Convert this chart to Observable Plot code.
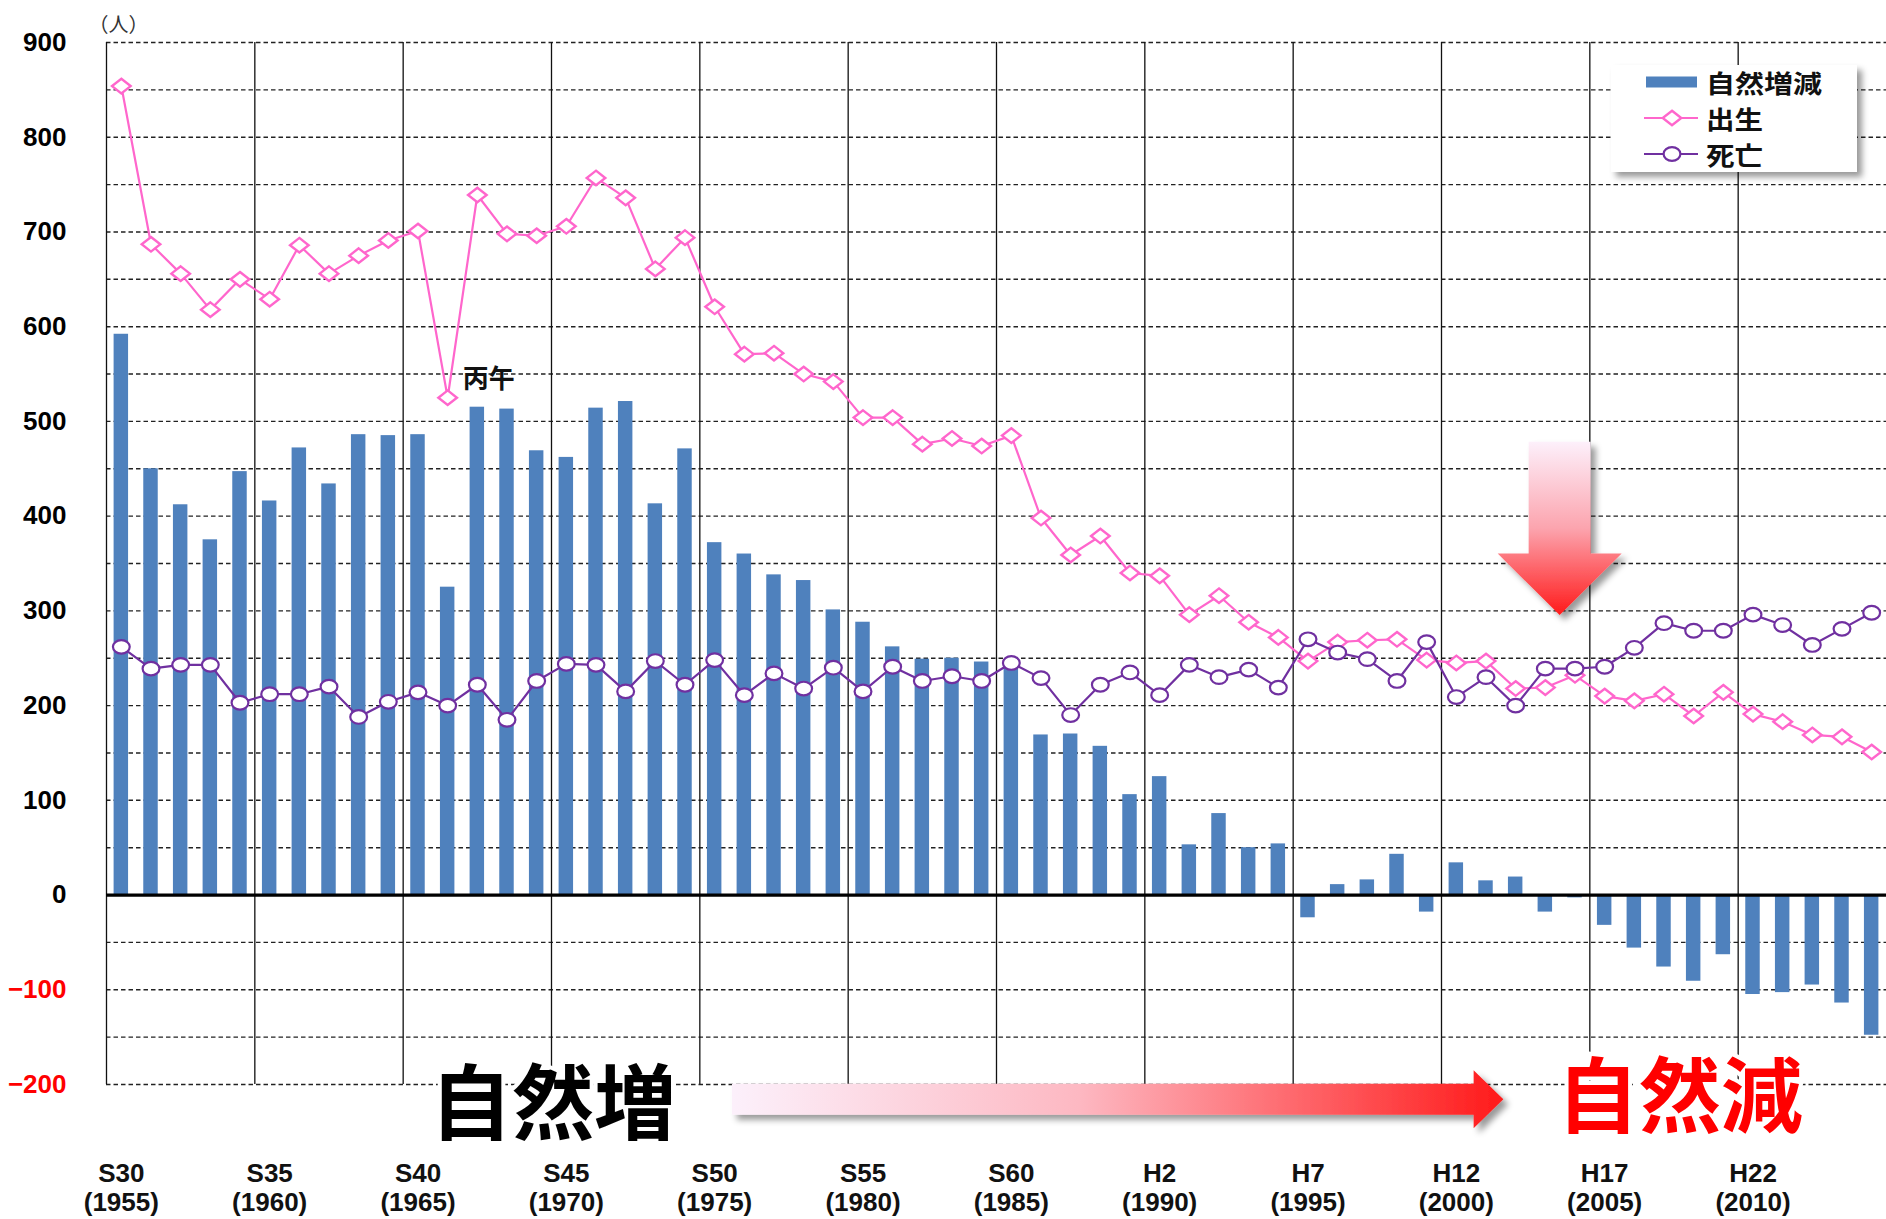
<!DOCTYPE html>
<html><head><meta charset="utf-8">
<script src="https://cdn.jsdelivr.net/npm/d3@7"></script>
<script src="https://cdn.jsdelivr.net/npm/@observablehq/plot@0.6"></script>
<style>
body{margin:0;background:#fff;}
#wrap{position:relative;width:1886px;height:1219px;overflow:hidden;}
</style></head>
<body><div id="wrap"></div>
<script>
// ---- data ----
const years = [1955,1956,1957,1958,1959,1960,1961,1962,1963,1964,
  1965,1966,1967,1968,1969,1970,1971,1972,1973,1974,
  1975,1976,1977,1978,1979,1980,1981,1982,1983,1984,
  1985,1986,1987,1988,1989,1990,1991,1992,1993,1994,
  1995,1996,1997,1998,1999,2000,2001,2002,2003,2004,
  2005,2006,2007,2008,2009,2010,2011,2012,2013,2014];
const natural = [592,450,412,375,447,416,472,434,486,485,
  486,325,515,513,469,462,514,521,413,471,
  372,360,338,332,301,288,262,249,250,246,
  240,169,170,157,106,125,53,86,50,54,
  -24,11,16,43,-18,34,15,19,-18,-3,
  -32,-56,-76,-91,-63,-105,-103,-95,-114,-148];
const births = [854,687,656,618,650,629,686,656,675,691,
  701,525,739,698,696,706,757,736,661,694,
  621,571,572,550,542,504,504,476,482,474,
  485,398,359,379,340,337,296,316,288,272,
  247,267,269,270,248,245,247,218,219,232,
  210,205,212,189,214,191,183,169,167,151];
const deaths = [262,239,243,243,203,212,212,220,188,204,
  214,200,222,185,226,244,243,215,247,222,
  248,211,234,218,240,215,241,226,231,226,
  245,229,190,222,235,211,243,230,238,219,
  270,256,249,226,267,209,230,200,239,239,
  241,261,287,279,279,296,285,264,281,298];
const seriesNames = ["自然増減","出生","死亡"];
const xTickYears = [1955,1960,1965,1970,1975,1980,1985,1990,1995,2000,2005,2010];
const xTickEras = ["S30","S35","S40","S45","S50","S55","S60","H2","H7","H12","H17","H22"];
const yTicks = [-200,-100,0,100,200,300,400,500,600,700,800,900];
const gridValues = [-200,-150,-100,-50,50,100,150,200,250,300,350,400,450,500,550,600,650,700,750,800,850,900];
const unitLabel = "（人）";
const noteYear = 1966, noteText = "丙午";
const trendLeft = "自然増", trendRight = "自然減";

// ---- styles ----
const BLUE = "#4F81BD", PINK = "#FF66CC", PURPLE = "#7030A0";
const rows = years.map((year, i) => ({year, natural: natural[i], births: births[i], deaths: deaths[i]}));
const negTicks = yTicks.filter(d => d < 0), posTicks = yTicks.filter(d => d >= 0);

const diamondSym = {draw(ctx){ const a=9.3,b=7.3; ctx.moveTo(0,-b); ctx.lineTo(a,0); ctx.lineTo(0,b); ctx.lineTo(-a,0); ctx.closePath(); }};
const ellipseSym = {draw(ctx){ const rx=8.4, ry=6.8, k=0.5523;
  ctx.moveTo(rx,0);
  ctx.bezierCurveTo(rx, ry*k, rx*k, ry, 0, ry);
  ctx.bezierCurveTo(-rx*k, ry, -rx, ry*k, -rx, 0);
  ctx.bezierCurveTo(-rx, -ry*k, -rx*k, -ry, 0, -ry);
  ctx.bezierCurveTo(rx*k, -ry, rx, -ry*k, rx, 0);
  ctx.closePath(); }};

const W = 1886, H = 1219, ML = 106, MR = 0;
const bw = (W - ML - MR) / years.length;
const numFont = "'Liberation Sans', Arial, sans-serif";
const jpFont = "'Noto Sans CJK JP', sans-serif";

const plot = Plot.plot({
  width: W, height: H,
  marginTop: 42, marginBottom: 135, marginLeft: ML, marginRight: MR,
  x: {type: "band", domain: years, padding: 0, axis: null},
  y: {domain: [-200, 900], axis: null},
  style: {fontFamily: numFont, background: "#fff", overflow: "visible"},
  marks: [
    Plot.ruleY(gridValues, {stroke: "#222", strokeWidth: 1.4, strokeDasharray: "4.5,3"}),
    Plot.ruleX(xTickYears, {x: d => d, dx: -bw / 2, stroke: "#111", strokeWidth: 1.3}),
    Plot.barY(rows, {x: "year", y: "natural", fill: BLUE, insetLeft: 7.6, insetRight: 7.6}),
    Plot.ruleY([0], {stroke: "#000", strokeWidth: 3.2}),
    Plot.line(rows, {x: "year", y: "births", stroke: PINK, strokeWidth: 2.2}),
    Plot.dot(rows, {x: "year", y: "births", symbol: diamondSym, stroke: PINK, fill: "#fff", strokeWidth: 2.4}),
    Plot.line(rows, {x: "year", y: "deaths", stroke: PURPLE, strokeWidth: 2.2}),
    Plot.dot(rows, {x: "year", y: "deaths", symbol: ellipseSym, stroke: PURPLE, fill: "#fff", strokeWidth: 2.2}),
    Plot.text(posTicks, {y: d => d, frameAnchor: "left", dx: -40, textAnchor: "end", text: d => String(d),
      fill: "#000", fontSize: 26, fontWeight: "bold"}),
    Plot.text(negTicks, {y: d => d, frameAnchor: "left", dx: -40, textAnchor: "end", text: d => "−" + Math.abs(d),
      fill: "#FF0000", fontSize: 26, fontWeight: "bold"}),
    Plot.text(xTickYears, {x: d => d, frameAnchor: "bottom", dy: 76, lineAnchor: "top",
      text: (d, i) => xTickEras[i] + "\n(" + d + ")", fontSize: 26, fontWeight: "bold", lineHeight: 1.14, fill: "#111"}),
    Plot.text([unitLabel], {frameAnchor: "top-left", dx: -18, dy: -25, text: d => d, fontSize: 20,
      fill: "#333", fontFamily: jpFont}),
    Plot.text([noteText], {x: () => noteYear, y: () => births[years.indexOf(noteYear)], dx: 15, dy: -18,
      textAnchor: "start", text: d => d, fontSize: 26, fontWeight: "bold", fontFamily: jpFont, fill: "#111"})
  ]
});
document.getElementById("wrap").appendChild(plot);

// ---- annotations (positioned from the plot's scales) ----
const xs = plot.scale("x"), ys = plot.scale("y");
const x0 = xs.apply(years[0]);
const bx = t => x0 + (t - years[0]) * xs.bandwidth;
const svg = d3.select(plot);
const defs = svg.append("defs");
const f = defs.append("filter").attr("id", "shadow").attr("x", "-20%").attr("y", "-20%").attr("width", "150%").attr("height", "150%");
f.append("feDropShadow").attr("dx", 5).attr("dy", 5).attr("stdDeviation", 3).attr("flood-color", "#000").attr("flood-opacity", 0.4);
const gh = defs.append("linearGradient").attr("id", "gH").attr("x1", 0).attr("x2", 1).attr("y1", 0).attr("y2", 0);
gh.append("stop").attr("offset", "0%").attr("stop-color", "#fcf0fb");
gh.append("stop").attr("offset", "45%").attr("stop-color", "#fdb8c2");
gh.append("stop").attr("offset", "100%").attr("stop-color", "#ff1a1a");
const gv = defs.append("linearGradient").attr("id", "gV").attr("x1", 0).attr("x2", 0).attr("y1", 0).attr("y2", 1);
gv.append("stop").attr("offset", "0%").attr("stop-color", "#fdf0fb");
gv.append("stop").attr("offset", "50%").attr("stop-color", "#fca4ae");
gv.append("stop").attr("offset", "100%").attr("stop-color", "#ff1a1a");

const ann = svg.append("g");
// horizontal arrow
{
  const xl = bx(1976.1), xh = bx(2001.1), xt = bx(2002.1), yc = ys.apply(-216);
  const s = 15.5, hh = 29;
  ann.append("path").attr("d", `M${xl},${yc-s}L${xh},${yc-s}L${xh},${yc-hh}L${xt},${yc}L${xh},${yc+hh}L${xh},${yc+s}L${xl},${yc+s}Z`)
    .attr("fill", "url(#gH)").attr("filter", "url(#shadow)");
}
// vertical arrow
{
  const xc = bx(2004), yt = ys.apply(478), yh = ys.apply(360), ytip = ys.apply(295);
  const s = 31, hw = 62;
  ann.append("path").attr("d", `M${xc-s},${yt}L${xc+s},${yt}L${xc+s},${yh}L${xc+hw},${yh}L${xc},${ytip}L${xc-hw},${yh}L${xc-s},${yh}Z`)
    .attr("fill", "url(#gV)").attr("filter", "url(#shadow)");
}
// big texts
ann.append("text").text(trendLeft).attr("x", bx(1970.07)).attr("y", ys.apply(-214))
  .attr("text-anchor", "middle").attr("dominant-baseline", "central")
  .attr("font-family", jpFont).attr("font-weight", "bold").attr("font-size", 82)
  .attr("fill", "#000").attr("stroke", "#fff").attr("stroke-width", 8).attr("paint-order", "stroke");
ann.append("text").text(trendRight).attr("x", bx(2008.05)).attr("y", ys.apply(-207))
  .attr("text-anchor", "middle").attr("dominant-baseline", "central")
  .attr("font-family", jpFont).attr("font-weight", "bold").attr("font-size", 82)
  .attr("fill", "#FF0000").attr("stroke", "#fff").attr("stroke-width", 8).attr("paint-order", "stroke");

// legend
{
  const lg = svg.append("g");
  const lx = 1611, ly = 65, lw = 246, lh = 107;
  lg.append("rect").attr("x", lx).attr("y", ly).attr("width", lw).attr("height", lh)
    .attr("fill", "#fff").attr("filter", "url(#shadow)");
  const rowsY = [82, 118, 154];
  const widths = [116, 57, 57];
  lg.append("rect").attr("x", 1646).attr("y", rowsY[0] - 5.5).attr("width", 51).attr("height", 11).attr("fill", BLUE);
  lg.append("line").attr("x1", 1644).attr("x2", 1698).attr("y1", rowsY[1]).attr("y2", rowsY[1]).attr("stroke", PINK).attr("stroke-width", 2.2);
  lg.append("path").attr("d", d3.symbol().type(diamondSym)()).attr("transform", `translate(1672,${rowsY[1]})`)
    .attr("fill", "#fff").attr("stroke", PINK).attr("stroke-width", 2.4);
  lg.append("line").attr("x1", 1644).attr("x2", 1698).attr("y1", rowsY[2]).attr("y2", rowsY[2]).attr("stroke", PURPLE).attr("stroke-width", 2.2);
  lg.append("path").attr("d", d3.symbol().type(ellipseSym)()).attr("transform", `translate(1672,${rowsY[2]})`)
    .attr("fill", "#fff").attr("stroke", PURPLE).attr("stroke-width", 2.2);
  seriesNames.forEach((name, i) => {
    lg.append("text").text(name).attr("x", 1706).attr("y", rowsY[i])
      .attr("text-anchor", "start")
      .attr("dominant-baseline", "central").attr("font-family", jpFont).attr("font-weight", "bold")
      .attr("font-size", 25).attr("fill", "#111")
      .attr("textLength", widths[i]).attr("lengthAdjust", "spacingAndGlyphs");
  });
}
</script>
</body></html>
